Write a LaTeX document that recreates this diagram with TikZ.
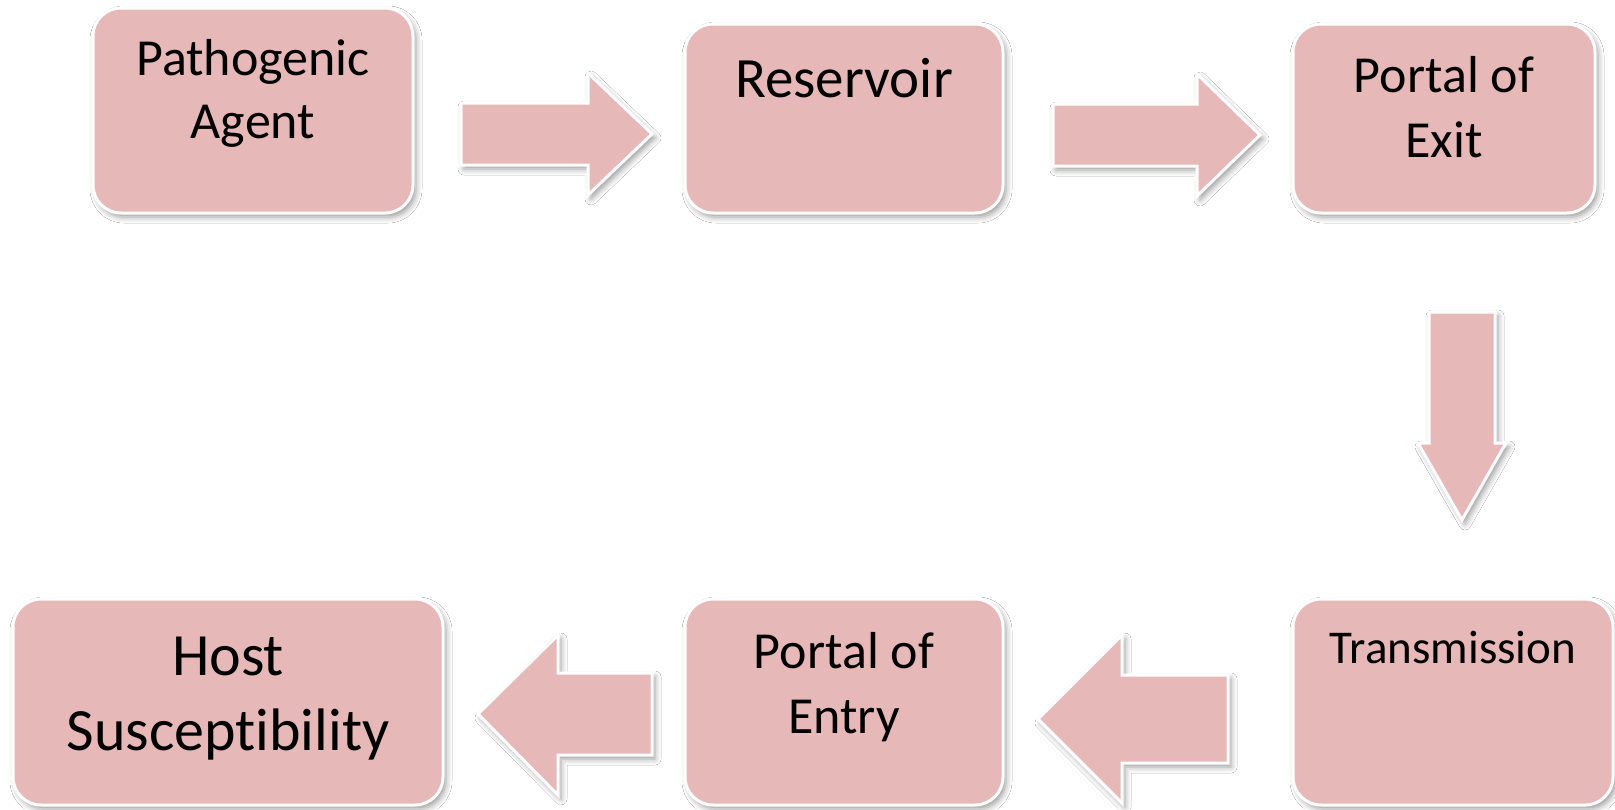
\documentclass[tikz,border=0pt]{standalone}
\usepackage{fontspec}
\setmainfont{Carlito}[Ligatures=NoCommon]
\usetikzlibrary{shadows.blur}
\definecolor{boxpink}{HTML}{E6B8B7}
\begin{document}
\begin{tikzpicture}[x=1pt,y=-1pt,
  softshadow/.style={blur shadow={shadow xshift=3pt, shadow yshift=-4pt, shadow blur radius=6pt, shadow opacity=40}},
  box/.style={rectangle, rounded corners=28pt, fill=boxpink, draw=white, line width=3pt, inner sep=0pt, softshadow},
  blockarrow/.style={fill=boxpink, draw=white, line width=3pt, line join=miter, softshadow},
  lbl/.style={anchor=base, inner sep=0pt, text=black}]
\useasboundingbox[fill=white] (0,0) rectangle (1615,809);

% boxes
\node[box, minimum width=320pt, minimum height=205pt] (pa) at (253,110.5) {};
\node[box, minimum width=318pt, minimum height=189pt] (res) at (844,118.5) {};
\node[box, minimum width=302pt, minimum height=189pt] (pex) at (1444,118.5) {};
\node[box, minimum width=320pt, minimum height=206pt] (tr) at (1453,702) {};
\node[box, minimum width=318pt, minimum height=206pt] (pen) at (844,702) {};
\node[box, minimum width=430pt, minimum height=206pt] (hs) at (228,702) {};

% labels
\node[lbl, font=\fontsize{52}{60}\selectfont] (pa1) at (253,75) {Pathogenic};
\node[lbl, font=\fontsize{52}{60}\selectfont] (pa2) at (253,138) {Agent};
\node[lbl, font=\fontsize{57}{66}\selectfont] (res1) at (844,97) {Reservoir};
\node[lbl, font=\fontsize{52}{60}\selectfont] (pex1) at (1444,92) {Portal of};
\node[lbl, font=\fontsize{52}{60}\selectfont] (pex2) at (1444,157) {Exit};
\node[lbl, font=\fontsize{47}{54}\selectfont] (tr1) at (1453,663) {Transmission};
\node[lbl, font=\fontsize{52}{60}\selectfont] (pen1) at (844,668) {Portal of};
\node[lbl, font=\fontsize{52}{60}\selectfont] (pen2) at (844,733) {Entry};
\node[lbl, font=\fontsize{60}{68}\selectfont] (hs1) at (228,675) {Host};
\node[lbl, font=\fontsize{60}{68}\selectfont] (hs2) at (228,750) {Susceptibility};

% block arrows
\draw[blockarrow] (461,103) -- (588,103) -- (588,73) -- (652,134) -- (588,195) -- (588,165) -- (461,165) -- cycle;
\draw[blockarrow] (1053,104) -- (1197,104) -- (1197,74) -- (1260,135) -- (1197,196) -- (1197,166) -- (1053,166) -- cycle;
\draw[blockarrow] (1429,312) -- (1495,312) -- (1495,443) -- (1506,443) -- (1462,520) -- (1418,443) -- (1429,443) -- cycle;
\draw[blockarrow] (652,673) -- (558,673) -- (558,635) -- (478,714) -- (558,795) -- (558,755) -- (652,755) -- cycle;
\draw[blockarrow] (1228,675) -- (1122,675) -- (1122,635) -- (1038,719) -- (1122,803) -- (1122,763) -- (1228,763) -- cycle;
\end{tikzpicture}
\end{document}
